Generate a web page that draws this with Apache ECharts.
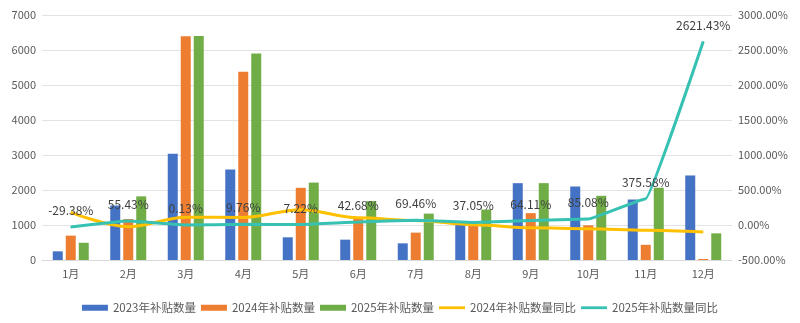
<!DOCTYPE html>
<html>
<head>
<meta charset="utf-8">
<script src="https://cdn.jsdelivr.net/npm/echarts@6/dist/echarts.min.js"></script>
<style>
  html, body { margin: 0; padding: 0; background: #fff; }
  #chart { width: 800px; height: 323px; }
</style>
</head>
<body>
<div id="chart"></div>
<script>
// Monthly subsidy counts and year-over-year ratios
const months = ['1月', '2月', '3月', '4月', '5月', '6月', '7月', '8月', '9月', '10月', '11月', '12月'];
const count2023 = [247, 1556, 3037, 2588, 648, 581, 476, 1000, 2195, 2100, 1728, 2415];
const count2024 = [696, 1170, 6390, 5377, 2063, 1180, 782, 1052, 1338, 991, 434, 28];
const count2025 = [492, 1818, 6398, 5902, 2212, 1684, 1325, 1442, 2196, 1834, 2064, 762];
const yoy2024 = [181.78, -24.81, 110.41, 107.77, 218.36, 103.10, 64.29, 5.20, -39.04, -52.81, -74.88, -98.84];
const yoy2025 = [-29.38, 55.43, 0.13, 9.76, 7.22, 42.68, 69.46, 37.05, 64.11, 85.08, 375.58, 2621.43];

const names = ['2023年补贴数量', '2024年补贴数量', '2025年补贴数量', '2024年补贴数量同比', '2025年补贴数量同比'];
const colors = ['#4472C4', '#ED7D31', '#70AD47', '#FFC000', '#36C1B3'];

const font = 'Noto Sans CJK SC, Noto Sans, sans-serif';
const lineIcon = 'path://M0,0 L28,0 L28,3 L0,3 Z';
const chart = echarts.init(document.getElementById('chart'), null, { renderer: 'canvas' });

function barSeries(i, data) {
  return {
    name: names[i], type: 'bar', data: data,
    barWidth: 10, barGap: '30%',
    itemStyle: { color: colors[i] }
  };
}

chart.setOption({
  animation: false,
  textStyle: { fontFamily: font },
  grid: { left: 42, right: 68, top: 15, bottom: 63 },
  legend: {
    top: 297, left: 'center',
    itemWidth: 26, itemHeight: 6, itemGap: 5,
    textStyle: { color: '#595959', fontSize: 11.5, fontFamily: font },
    data: [
      { name: names[0], icon: 'rect' },
      { name: names[1], icon: 'rect' },
      { name: names[2], icon: 'rect' },
      { name: names[3], icon: lineIcon },
      { name: names[4], icon: lineIcon }
    ]
  },
  xAxis: {
    type: 'category', data: months,
    axisTick: { show: false },
    axisLine: { lineStyle: { color: '#D9D9D9', width: 1 } },
    axisLabel: { color: '#595959', fontSize: 11, margin: 8 }
  },
  yAxis: [
    {
      type: 'value', min: 0, max: 7000, interval: 1000,
      axisLabel: { color: '#595959', fontSize: 11, margin: 6, formatter: v => String(v) },
      splitLine: { lineStyle: { color: '#E3E3E3', width: 1 } },
      axisLine: { show: false }, axisTick: { show: false }
    },
    {
      type: 'value', min: -500, max: 3000, interval: 500,
      axisLabel: { color: '#595959', fontSize: 11, margin: 6,
        formatter: v => v.toFixed(2) + '%' },
      splitLine: { show: false },
      axisLine: { show: false }, axisTick: { show: false }
    }
  ],
  series: [
    barSeries(0, count2023),
    barSeries(1, count2024),
    barSeries(2, count2025),
    {
      name: names[3], type: 'line', yAxisIndex: 1, data: yoy2024,
      smooth: 0.35, smoothMonotone: 'x', symbol: 'none',
      lineStyle: { color: colors[3], width: 3 },
      itemStyle: { color: colors[3] }
    },
    {
      name: names[4], type: 'line', yAxisIndex: 1, data: yoy2025,
      smooth: 0.08, smoothMonotone: 'x',
      symbol: 'circle', symbolSize: 1, showSymbol: true,
      lineStyle: { color: colors[4], width: 3 },
      itemStyle: { color: colors[4] },
      label: {
        show: true, position: 'top', distance: 10,
        color: '#404040', fontSize: 12, fontFamily: font,
        formatter: p => p.value.toFixed(2) + '%'
      },
      labelLayout: { hideOverlap: false },
      z: 5
    }
  ]
});
</script>
</body>
</html>
